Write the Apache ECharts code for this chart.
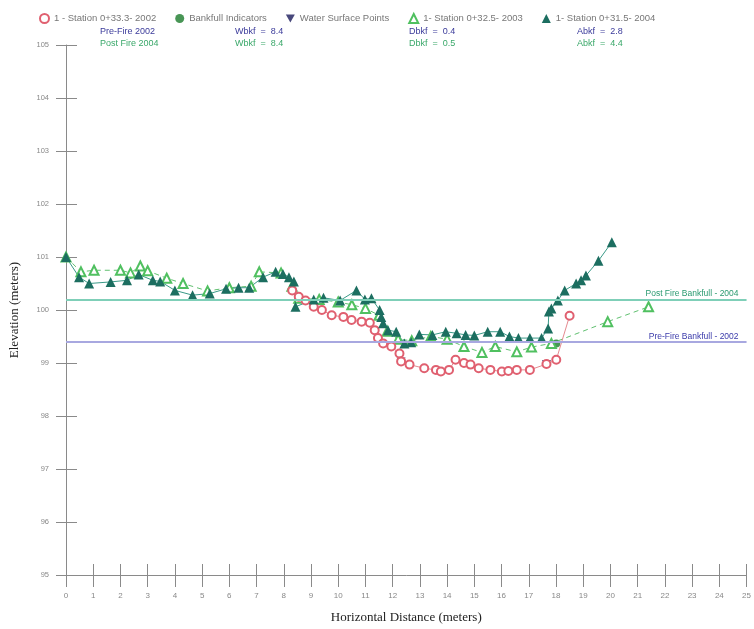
<!DOCTYPE html>
<html>
<head>
<meta charset="utf-8">
<script src="https://cdn.jsdelivr.net/npm/echarts@6/dist/echarts.min.js"></script>
<style>html,body{margin:0;padding:0;background:#fff;}#c{width:754px;height:629px;}</style>
</head>
<body>
<div id="c"></div>
<script>
// ---- Data ----
const xTicks = [0,1,2,3,4,5,6,7,8,9,10,11,12,13,14,15,16,17,18,19,20,21,22,23,24,25];
const yTicks = [95,96,97,98,99,100,101,102,103,104,105];

const x2002 = [8.31,8.55,8.8,9.1,9.4,9.76,10.19,10.49,10.86,11.16,11.34,11.46,11.65,11.95,12.25,12.31,12.62,13.16,13.59,13.77,14.07,14.31,14.62,14.86,15.16,15.59,16.01,16.25,16.56,17.04,17.65,18.01,18.5];
const y2002 = [100.37,100.25,100.18,100.06,100.0,99.9,99.87,99.81,99.78,99.76,99.62,99.47,99.37,99.31,99.18,99.03,98.97,98.9,98.87,98.84,98.87,99.06,99.0,98.97,98.9,98.87,98.84,98.85,98.87,98.87,98.98,99.06,99.89];

const x2003 = [0.0,0.55,1.03,2.0,2.37,2.73,3.0,3.7,4.3,5.2,6.0,6.8,7.1,7.9,8.3,8.55,9.3,10.0,10.5,11.0,11.5,11.8,12.2,12.7,13.4,14.0,14.62,15.28,15.77,16.56,17.1,17.83,19.9,21.4];
const y2003 = [101.0,100.72,100.75,100.75,100.70,100.83,100.74,100.6,100.5,100.36,100.42,100.45,100.72,100.7,100.45,100.22,100.2,100.15,100.1,100.03,99.9,99.6,99.45,99.42,99.5,99.45,99.31,99.2,99.31,99.21,99.3,99.37,99.78,100.06];

const x2004 = [0,0.48,0.85,1.64,2.24,2.67,3.19,3.46,4.0,4.65,5.28,5.88,6.34,6.73,7.24,7.70,7.97,8.19,8.37,8.43,9.10,9.46,10.07,10.67,10.98,11.22,11.52,11.58,11.65,11.83,12.13,12.43,12.68,12.98,13.46,13.95,14.35,14.68,15.0,15.49,15.95,16.29,16.62,17.04,17.47,17.71,17.74,17.83,18.07,18.32,18.74,18.92,19.1,19.56,20.05];
const y2004 = [101.0,100.62,100.50,100.53,100.56,100.67,100.56,100.54,100.37,100.28,100.31,100.40,100.42,100.42,100.62,100.72,100.68,100.62,100.54,100.06,100.20,100.23,100.18,100.37,100.20,100.22,100.0,99.87,99.75,99.62,99.59,99.37,99.39,99.54,99.53,99.59,99.56,99.53,99.52,99.59,99.59,99.50,99.47,99.47,99.47,99.65,99.97,100.03,100.18,100.37,100.50,100.56,100.65,100.93,101.28];

const xBankfull = [11.65,18.01];
const yBankfull = [99.37,99.37];
const xWater = [12.31,17.65];
const yWater = [99.03,98.98];

const postFireBankfull = 100.2;
const preFireBankfull = 99.4;

const statsLabels = ['Pre-Fire 2002','Post Fire 2004'];
const wbkf = [8.4, 8.4];
const dbkf = [0.4, 0.5];
const abkf = [2.8, 4.4];

const zip = (xs, ys) => xs.map((x, i) => [x, ys[i]]);

const names = ['1 - Station 0+33.3- 2002','Bankfull Indicators','Water Surface Points','1- Station 0+32.5- 2003','1- Station 0+31.5- 2004'];
const invTri = 'path://M0,0 L10,0 L5,9 Z';

const chart = echarts.init(document.getElementById('c'));
const axisGray = '#8a8a8a';
const labelGray = '#888';
const navy = '#3a3a9a';
const green = '#3aa86a';

const statText = [];
const rows = [32, 44];
const cols = [statsLabels.map(s=>s), wbkf.map(v=>'Wbkf  =  '+v), dbkf.map(v=>'Dbkf  =  '+v), abkf.map(v=>'Abkf  =  '+v)];
const colX = [100, 235, 409, 577];
for (let c = 0; c < 4; c++) {
  for (let r = 0; r < 2; r++) {
    statText.push({type:'text', left: colX[c], top: rows[r]-5, style:{text: cols[c][r], fill: r===0?navy:green, font:'9px "Liberation Sans", Arial, sans-serif'}});
  }
}

chart.setOption({
  animation: false,
  backgroundColor: '#fff',
  textStyle: {fontFamily: '"Liberation Sans", Arial, sans-serif'},
  legend: {
    top: 8, left: 34, itemGap: 19, itemWidth: 9, itemHeight: 9,
    textStyle: {fontSize: 9.5, color: '#777'},
    data: [
      {name: names[0], icon: 'emptyCircle', itemStyle:{color:'#e06070', borderColor:'#e06070', borderWidth:1}},
      {name: names[1], icon: 'circle', itemStyle:{color:'#1a7a2a'}},
      {name: names[2], icon: invTri, itemStyle:{color:'#1a1a5a'}},
      {name: names[3], icon: 'emptyTriangle', itemStyle:{color:'#50c060', borderColor:'#50c060', borderWidth:1}},
      {name: names[4], icon: 'triangle', itemStyle:{color:'#1c6e60'}}
    ]
  },
  graphic: statText,
  grid: {left: 65, right: 2, top: 45, bottom: 51, containLabel: false},
  xAxis: [{
    type: 'value', min: 0, max: 25, interval: 1,
    name: 'Horizontal Distance (meters)', nameLocation: 'middle', nameGap: 36,
    nameTextStyle: {fontFamily: '"Liberation Serif", "Times New Roman", serif', fontSize: 13, color: '#222'},
    axisLine: {show: true, lineStyle: {color: axisGray, width: 1}},
    axisTick: {show: true, length: 12, lineStyle: {color: axisGray}},
    axisLabel: {fontSize: 8, color: labelGray, margin: 17},
    splitLine: {show: false}
  },{
    type: 'value', min: 0, max: 25, interval: 1, position: 'bottom',
    axisLine: {show: false},
    axisTick: {show: true, inside: true, length: 11, lineStyle: {color: axisGray}},
    axisLabel: {show: false}, splitLine: {show: false}
  }],
  yAxis: [{
    type: 'value', min: 95, max: 105, interval: 1,
    name: 'Elevation (meters)', nameLocation: 'middle', nameGap: 45,
    nameTextStyle: {fontFamily: '"Liberation Serif", "Times New Roman", serif', fontSize: 13, color: '#222'},
    axisLine: {show: true, lineStyle: {color: axisGray, width: 1}},
    axisTick: {show: true, length: 10, lineStyle: {color: axisGray}},
    axisLabel: {fontSize: 7.5, color: labelGray, margin: 17},
    splitLine: {show: false}
  },{
    type: 'value', min: 95, max: 105, interval: 1, position: 'left',
    axisLine: {show: false},
    axisTick: {show: true, inside: true, length: 11, lineStyle: {color: axisGray}},
    axisLabel: {show: false}, splitLine: {show: false}
  }],
  series: [
    {
      name: 'bankfullLines', type: 'line', data: [], silent: true,
      markLine: {
        silent: true, symbol: ['none','none'],
        data: [
          {yAxis: postFireBankfull, lineStyle:{color:'#7fcfb8', width:2, type:'solid'},
           label:{formatter:'Post Fire Bankfull - 2004', position:'insideEndTop', color:'#2a9a70', fontSize:8.5, distance:[8,1]}},
          {yAxis: preFireBankfull, lineStyle:{color:'#a8a8e0', width:2, type:'solid'},
           label:{formatter:'Pre-Fire Bankfull - 2002', position:'insideEndTop', color:'#3a3aaa', fontSize:8.5, distance:[8,1]}}
        ]
      }
    },
    {
      name: names[3], type: 'line', data: zip(x2003, y2003),
      symbol: 'emptyTriangle', symbolSize: 9,
      itemStyle: {color: '#50c060', borderColor: '#50c060', borderWidth: 1},
      lineStyle: {color: '#60c070', width: 1, type: [5,4]}
    },
    {
      name: names[0], type: 'line', data: zip(x2002, y2002),
      symbol: 'emptyCircle', symbolSize: 8,
      itemStyle: {color: '#e06070', borderColor: '#e06070', borderWidth: 1},
      lineStyle: {color: '#e58a90', width: 1}
    },
    {
      name: names[4], type: 'line', data: zip(x2004, y2004),
      symbol: 'triangle', symbolSize: 10,
      itemStyle: {color: '#1c6e60'},
      lineStyle: {color: '#3a9a88', width: 1}
    },
    {
      name: names[1], type: 'scatter', data: zip(xBankfull, yBankfull),
      symbol: 'circle', symbolSize: 8, itemStyle: {color: '#1a7a2a'}
    },
    {
      name: names[2], type: 'scatter', data: zip(xWater, yWater),
      symbol: invTri, symbolSize: [9,8], itemStyle: {color: '#1a1a5a'}
    }
  ]
});
</script>
</body>
</html>
